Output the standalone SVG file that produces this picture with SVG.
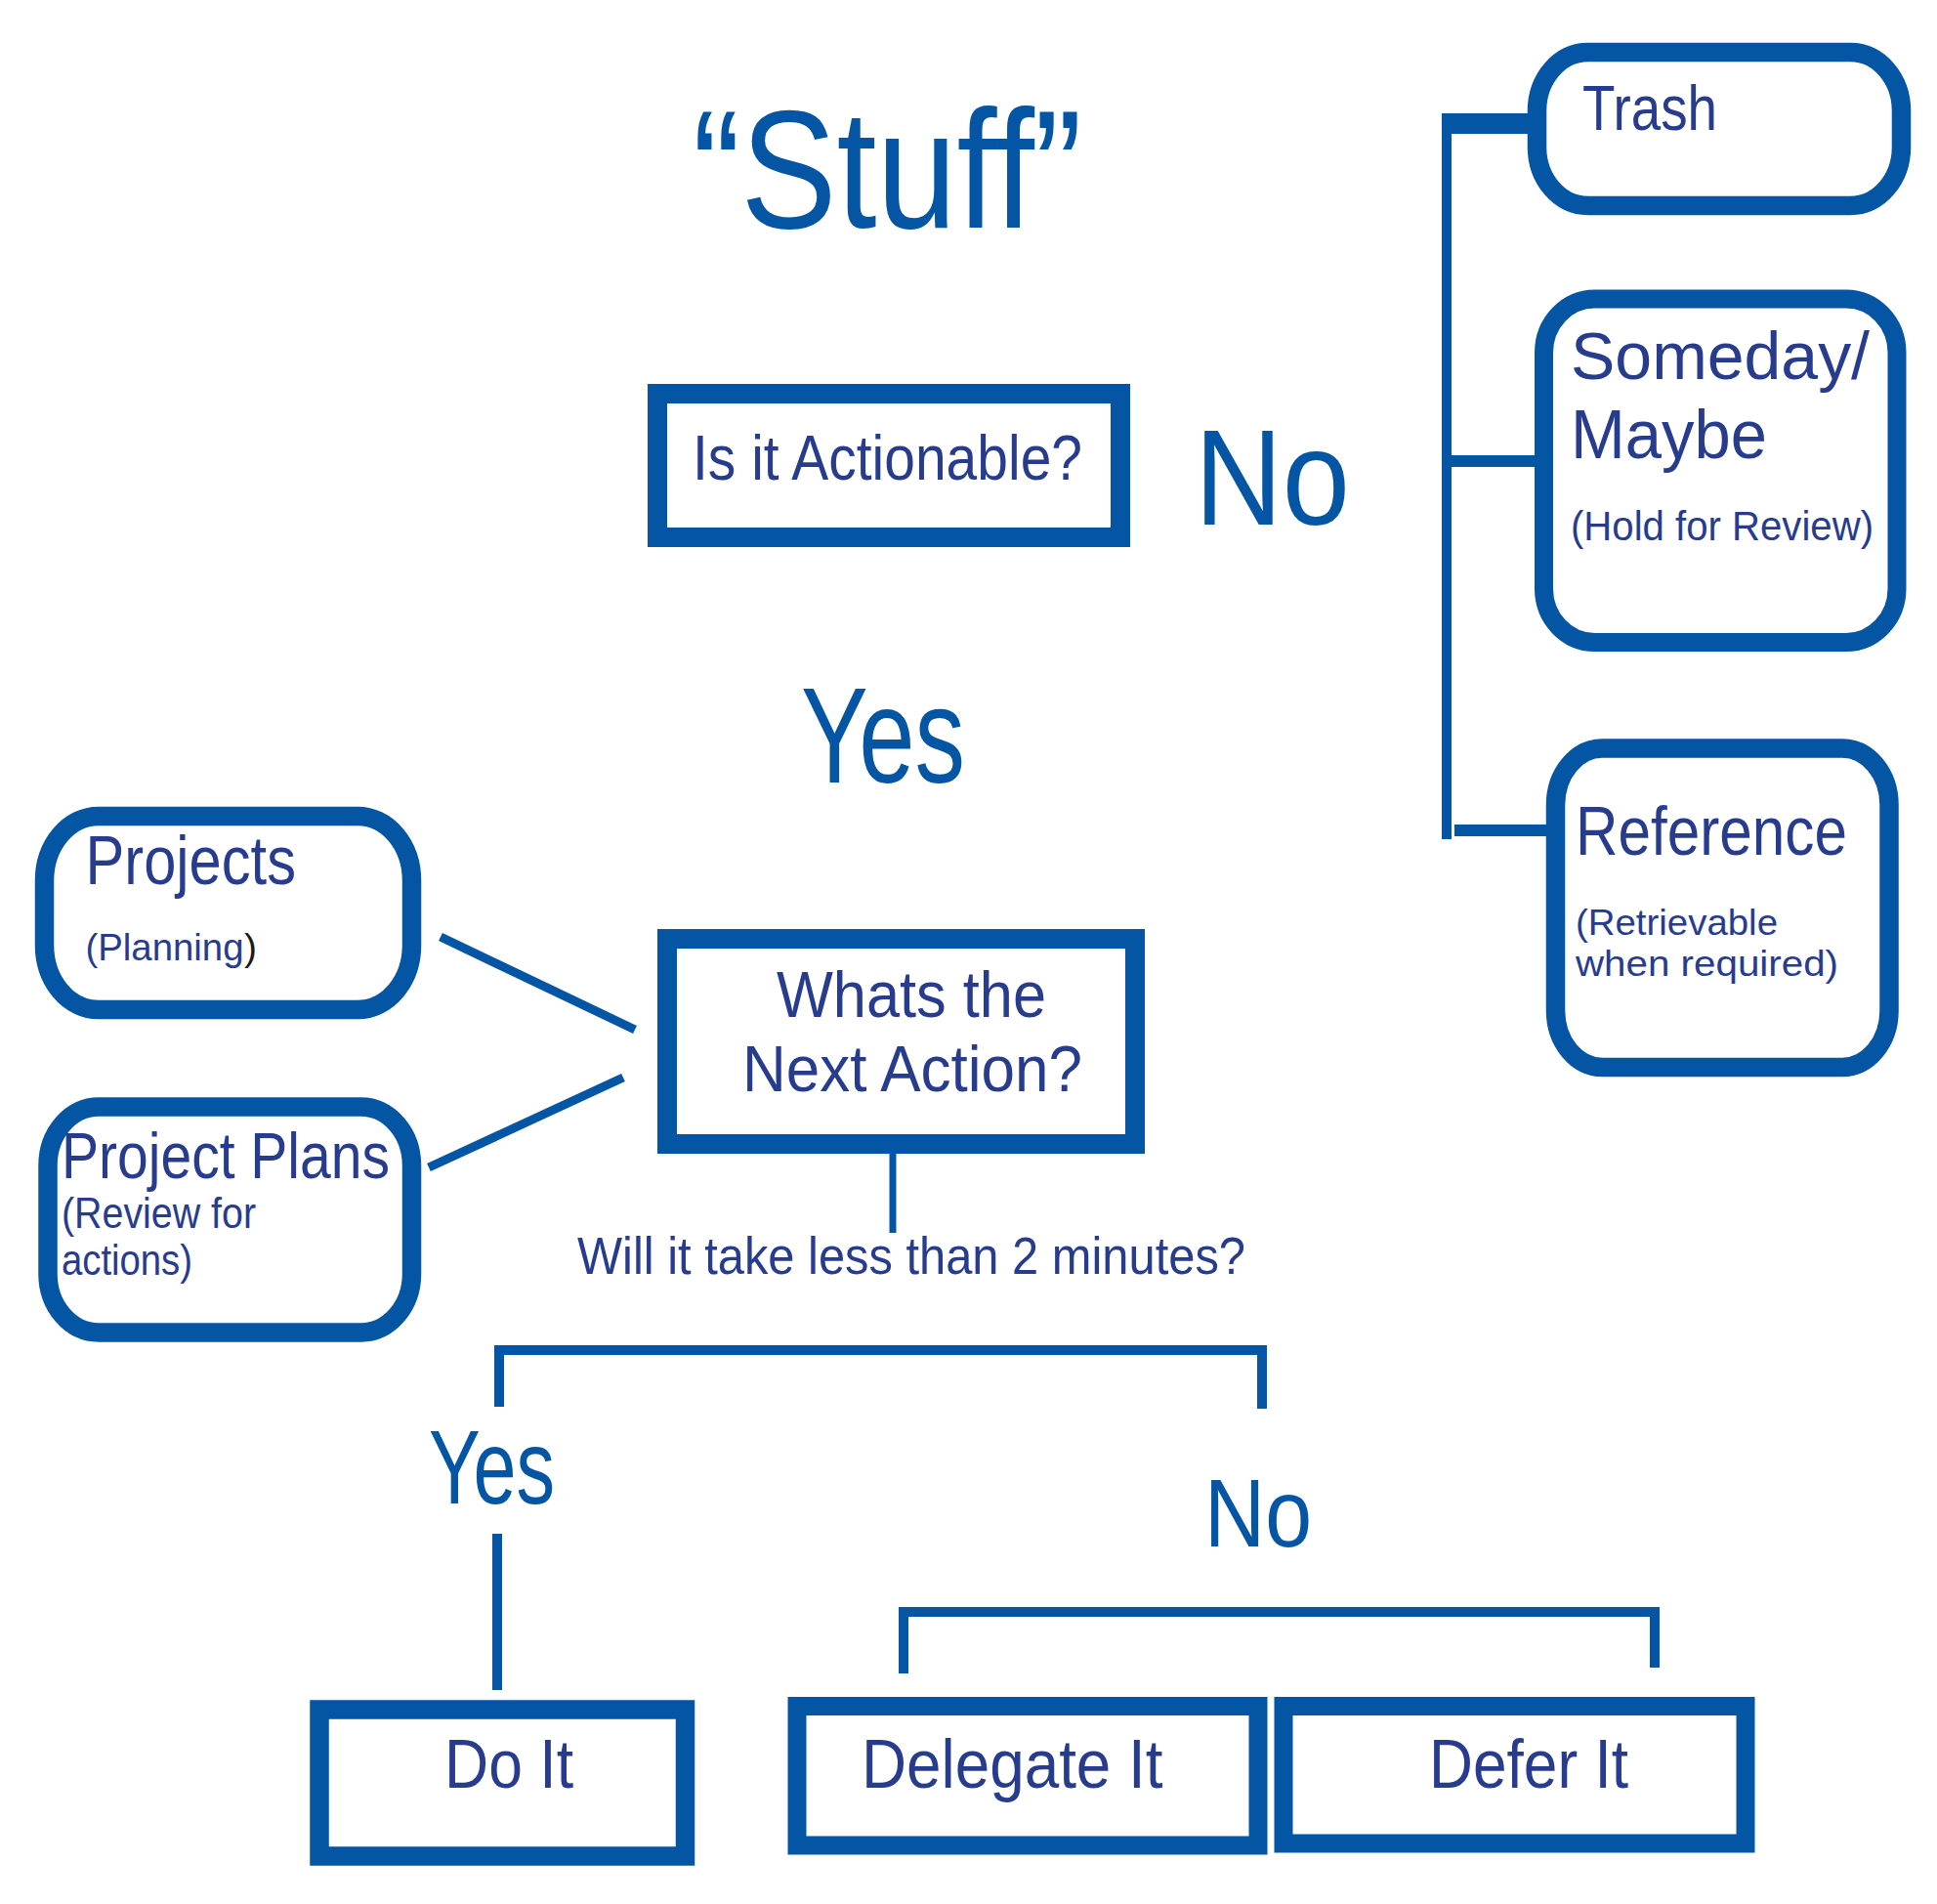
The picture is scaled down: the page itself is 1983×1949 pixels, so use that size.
<svg xmlns="http://www.w3.org/2000/svg" width="1983" height="1949" viewBox="0 0 1983 1949">
<style>
.box{fill:#fff;stroke:#0455A4;}
.ln{stroke:#0455A4;fill:none;stroke-linecap:butt;stroke-linejoin:miter;}
.bar{fill:#0455A4;}
.t{font-family:"Liberation Sans",Arial,sans-serif;fill:#283C8E;}
.big{font-family:"Liberation Sans",Arial,sans-serif;fill:#0455A4;}
</style>
<rect width="1983" height="1949" fill="#fff"/>

<g id="title">
<text class="big" x="709" y="233" font-size="172" textLength="399" lengthAdjust="spacingAndGlyphs">“Stuff”</text>
</g>

<g id="connectors">
<rect class="bar" x="1476" y="116" width="10" height="743"/>
<rect class="bar" x="1476" y="116" width="90" height="21"/>
<rect class="bar" x="1486" y="466" width="88" height="12"/>
<rect class="bar" x="1489" y="844" width="96" height="12"/>
<line class="ln" x1="451" y1="959" x2="650" y2="1054" stroke-width="9"/>
<line class="ln" x1="439" y1="1195" x2="638" y2="1103" stroke-width="9"/>
<line class="ln" x1="914" y1="1180" x2="914" y2="1262" stroke-width="7"/>
<path class="ln" d="M511,1440 V1382 H1292 V1442" stroke-width="10"/>
<line class="ln" x1="509" y1="1570" x2="509" y2="1730" stroke-width="10"/>
<path class="ln" d="M925,1713 V1650 H1694 V1707" stroke-width="10"/>
</g>

<g id="actionable">
<rect class="box" x="673" y="403" width="474" height="147" stroke-width="20"/>
<text class="t" x="709" y="491" font-size="64" textLength="399" lengthAdjust="spacingAndGlyphs">Is it Actionable?</text>
</g>

<g id="label-no-top">
<text class="big" x="1223" y="537" font-size="140" textLength="159" lengthAdjust="spacingAndGlyphs">No</text>
</g>

<g id="label-yes-top">
<text class="big" x="820" y="801" font-size="139" textLength="168" lengthAdjust="spacingAndGlyphs">Yes</text>
</g>

<g id="trash">
<rect class="box" x="1573.5" y="53.5" width="373" height="157" rx="52" ry="60" stroke-width="19.5"/>
<text class="t" x="1620" y="133" font-size="65" textLength="138" lengthAdjust="spacingAndGlyphs">Trash</text>
</g>

<g id="someday">
<rect class="box" x="1580.5" y="306" width="361.5" height="351.5" rx="52" ry="55" stroke-width="19"/>
<text class="t" x="1608" y="388" font-size="69" textLength="306" lengthAdjust="spacingAndGlyphs">Someday/</text>
<text class="t" x="1608" y="469" font-size="70" textLength="201" lengthAdjust="spacingAndGlyphs">Maybe</text>
<text class="t" x="1608" y="553" font-size="42" textLength="310" lengthAdjust="spacingAndGlyphs">(Hold for Review)</text>
</g>

<g id="reference">
<rect class="box" x="1592.5" y="766" width="341.5" height="326.5" rx="48" ry="58" stroke-width="19.5"/>
<text class="t" x="1613" y="875" font-size="71" textLength="278" lengthAdjust="spacingAndGlyphs">Reference</text>
<text class="t" x="1613" y="957" font-size="37" textLength="207" lengthAdjust="spacingAndGlyphs">(Retrievable</text>
<text class="t" x="1613" y="999" font-size="37" textLength="269" lengthAdjust="spacingAndGlyphs">when required)</text>
</g>

<g id="projects">
<rect class="box" x="45.5" y="835.5" width="376" height="198" rx="55" ry="66" stroke-width="19.5"/>
<text class="t" x="87.5" y="905" font-size="71" textLength="215.5" lengthAdjust="spacingAndGlyphs">Projects</text>
<text class="t" x="87.5" y="983" font-size="39" textLength="162" lengthAdjust="spacingAndGlyphs">(Planning</text>
<text class="t" x="250" y="983" font-size="39" fill="#1a1a1a" style="fill:#1a1a1a">)</text>
</g>

<g id="project-plans">
<rect class="box" x="49" y="1133" width="372.5" height="231" rx="52" ry="60" stroke-width="19.5"/>
<text class="t" x="63" y="1206" font-size="66" textLength="336" lengthAdjust="spacingAndGlyphs">Project Plans</text>
<text class="t" x="63" y="1257" font-size="44" textLength="199" lengthAdjust="spacingAndGlyphs">(Review for</text>
<text class="t" x="63" y="1305" font-size="44" textLength="134" lengthAdjust="spacingAndGlyphs">actions)</text>
</g>

<g id="next-action">
<rect class="box" x="683" y="961" width="479" height="210" stroke-width="20"/>
<text class="t" x="795" y="1041" font-size="67" textLength="276" lengthAdjust="spacingAndGlyphs">Whats the</text>
<text class="t" x="760" y="1117" font-size="67" textLength="348" lengthAdjust="spacingAndGlyphs">Next Action?</text>
</g>

<g id="two-minutes">
<text class="t" x="591" y="1304" font-size="54" textLength="684" lengthAdjust="spacingAndGlyphs">Will it take less than 2 minutes?</text>
</g>

<g id="label-yes-bottom">
<text class="big" x="439" y="1539" font-size="107" textLength="129" lengthAdjust="spacingAndGlyphs">Yes</text>
</g>

<g id="label-no-bottom">
<text class="big" x="1233" y="1583" font-size="98" textLength="110" lengthAdjust="spacingAndGlyphs">No</text>
</g>

<g id="do-it">
<rect class="box" x="327" y="1750" width="374.5" height="150" stroke-width="19.5"/>
<text class="t" x="455" y="1830" font-size="70" textLength="132" lengthAdjust="spacingAndGlyphs">Do It</text>
</g>

<g id="delegate-it">
<rect class="box" x="816" y="1746.5" width="472" height="142.5" stroke-width="19"/>
<text class="t" x="882" y="1830" font-size="70" textLength="308.5" lengthAdjust="spacingAndGlyphs">Delegate It</text>
</g>

<g id="defer-it">
<rect class="box" x="1314" y="1746.5" width="473" height="140.5" stroke-width="19"/>
<text class="t" x="1463" y="1830" font-size="70" textLength="204" lengthAdjust="spacingAndGlyphs">Defer It</text>
</g>
</svg>
